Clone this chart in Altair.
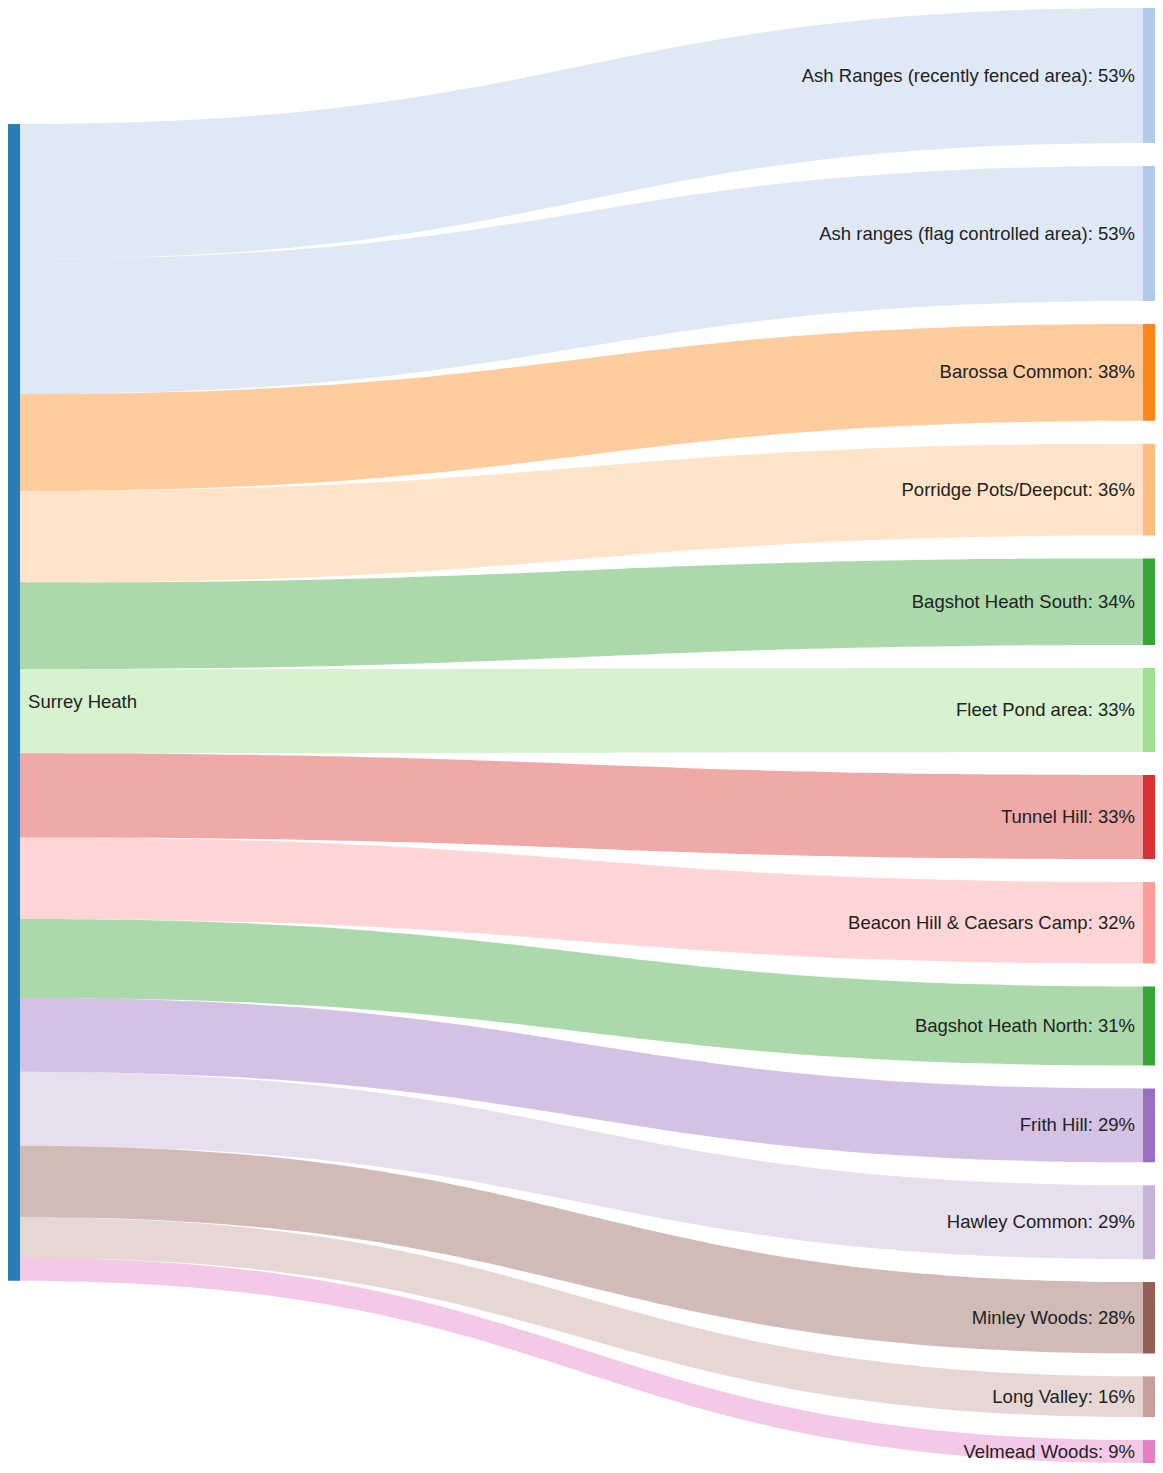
import altair as alt
import pandas as pd
import numpy as np

# ---- data -------------------------------------------------------------
SOURCE = "Surrey Heath"
TARGETS = [
    "Ash Ranges (recently fenced area)",
    "Ash ranges (flag controlled area)",
    "Barossa Common",
    "Porridge Pots/Deepcut",
    "Bagshot Heath South",
    "Fleet Pond area",
    "Tunnel Hill",
    "Beacon Hill & Caesars Camp",
    "Bagshot Heath North",
    "Frith Hill",
    "Hawley Common",
    "Minley Woods",
    "Long Valley",
    "Velmead Woods",
]
PERCENT = [53, 53, 38, 36, 34, 33, 33, 32, 31, 29, 29, 28, 16, 9]

# ---- style / layout ---------------------------------------------------
NODES = [SOURCE] + TARGETS
PALETTE = ["#1f77b4", "#aec7e8", "#aec7e8", "#ff7f0e", "#ffbb78", "#2ca02c",
           "#98df8a", "#d62728", "#ff9896", "#2ca02c", "#9467bd", "#c5b0d5",
           "#8c564b", "#c49c94", "#e377c2"]
GAP = 9            # gap between target nodes (value units)
LEFT_OFFSET = 45.5  # top of the source node (value units)
NODE_W = 0.0105    # node width as a fraction of the x range
W, H = 1147, 1455
FONT = "Liberation Sans"

# ---- layout computation ----------------------------------------------
vals = np.array(PERCENT, dtype=float)
total_right = vals.sum() + GAP * (len(vals) - 1)
r_top = np.concatenate([[0], np.cumsum(vals[:-1] + GAP)])
r_bot = r_top + vals
l_top = LEFT_OFFSET + np.concatenate([[0], np.cumsum(vals[:-1])])
l_bot = l_top + vals

x0, x1 = NODE_W, 1 - NODE_W
xm = (x0 + x1) / 2
ts = np.linspace(0, 1, 61)
rows = []
for i, name in enumerate(TARGETS):
    for t in ts:
        a = (1 - t) ** 3
        b = 3 * (1 - t) ** 2 * t
        c = 3 * (1 - t) * t ** 2
        d = t ** 3
        x = a * x0 + (b + c) * xm + d * x1
        ytop = (a + b) * l_top[i] + (c + d) * r_top[i]
        ybot = (a + b) * l_bot[i] + (c + d) * r_bot[i]
        rows.append({"node": name, "x": float(x), "ytop": float(ytop), "ybot": float(ybot)})
links = pd.DataFrame(rows)

node_rows = [{"node": SOURCE, "x0": 0.0, "x1": NODE_W,
              "y0": float(l_top[0]), "y1": float(l_bot[-1]),
              "ym": float((l_top[0] + l_bot[-1]) / 2), "label": SOURCE}]
for i, name in enumerate(TARGETS):
    node_rows.append({"node": name, "x0": 1 - NODE_W, "x1": 1.0,
                      "y0": float(r_top[i]), "y1": float(r_bot[i]),
                      "ym": float((r_top[i] + r_bot[i]) / 2),
                      "label": f"{name}: {PERCENT[i]}%"})
nodes = pd.DataFrame(node_rows)

xscale = alt.Scale(domain=[0, 1], nice=False, zero=False)
yscale = alt.Scale(domain=[0, float(total_right)], reverse=True, nice=False, zero=False)
cscale = alt.Scale(domain=NODES, range=PALETTE)

link_layer = alt.Chart(links).mark_area(opacity=0.4, interpolate="monotone").encode(
    x=alt.X("x:Q", scale=xscale, axis=None),
    y=alt.Y("ytop:Q", scale=yscale, axis=None, stack=None),
    y2="ybot:Q",
    color=alt.Color("node:N", scale=cscale, legend=None),
)

node_layer = alt.Chart(nodes).mark_rect(opacity=0.95).encode(
    x=alt.X("x0:Q", scale=xscale, axis=None),
    x2="x1:Q",
    y=alt.Y("y0:Q", scale=yscale, axis=None),
    y2="y1:Q",
    color=alt.Color("node:N", scale=cscale, legend=None),
)

src_text = alt.Chart(nodes[nodes["node"] == SOURCE]).mark_text(
    align="left", baseline="middle", dx=8, font=FONT, fontSize=18.5, color="#222222"
).encode(
    x=alt.X("x1:Q", scale=xscale, axis=None),
    y=alt.Y("ym:Q", scale=yscale, axis=None),
    text="label:N",
)

tgt_text = alt.Chart(nodes[nodes["node"] != SOURCE]).mark_text(
    align="right", baseline="middle", dx=-8, font=FONT, fontSize=18.5, color="#222222"
).encode(
    x=alt.X("x0:Q", scale=xscale, axis=None),
    y=alt.Y("ym:Q", scale=yscale, axis=None),
    text="label:N",
)

chart = alt.layer(link_layer, node_layer, src_text, tgt_text).properties(
    width=W, height=H, padding=0, autosize="none"
).configure_view(stroke=None)

chart.save("out.html", embed_options={"renderer": "svg", "actions": False})
